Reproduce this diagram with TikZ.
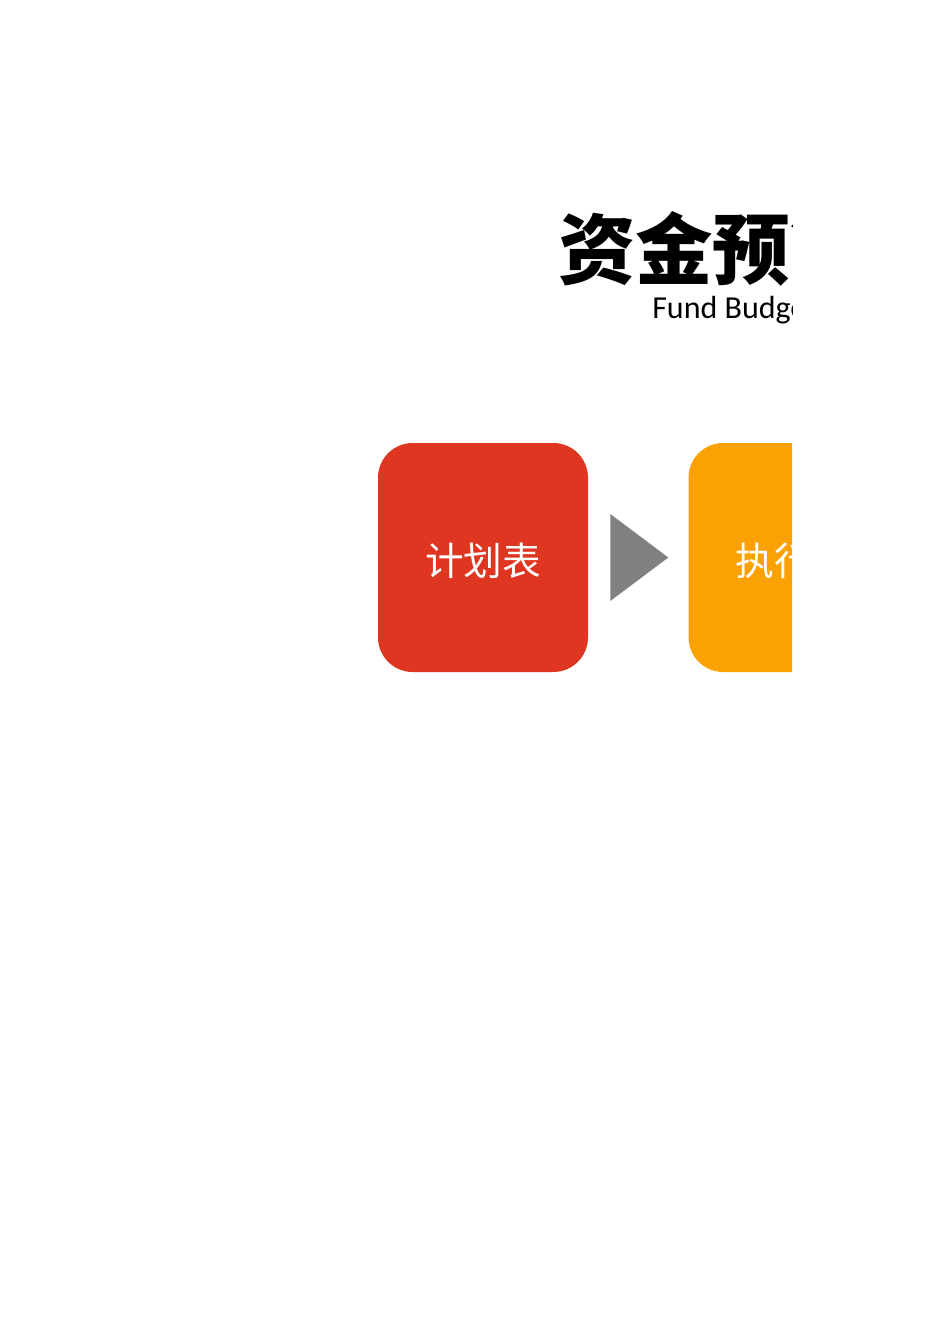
\documentclass[tikz,border=0pt]{standalone}
\usepackage{fontspec}
\newfontfamily\cjk{Noto Sans CJK SC}
\newfontfamily\calib{Carlito}
\usetikzlibrary{positioning,calc}
\definecolor{planred}{RGB}{222,54,33}
\definecolor{execorange}{RGB}{252,161,3}
\begin{document}
\begin{tikzpicture}[x=0.75pt,y=-0.75pt]
	\tikzset{block/.style={rounded corners=26pt,minimum width=157.5pt,minimum height=171.75pt,inner sep=0pt,text height=28pt,text depth=1.5pt,text=white,font=\cjk\fontsize{29}{35}\selectfont}}
	\useasboundingbox (0,0) rectangle (950,1344);
	\clip (0,0) rectangle (792,1344);
	\node [anchor=base west,inner sep=0pt,font=\cjk\bfseries\fontsize{58}{70}\selectfont] (title) at (558,279) {资金预算};
	\node [anchor=base west,inner sep=0pt,font=\calib\fontsize{24}{29}\selectfont] (subtitle) at (652,318) {Fund Budget};
	\node [block, fill=planred] (plan) at (483,557.5) {计划表};
	\node [block, fill=execorange, right =75pt of plan] (exec) {执行表};
	\fill[gray] ($(plan.east)+(22,-43.5)$) -- ($(plan.east)+(80,0)$) -- ($(plan.east)+(22,43.5)$) -- cycle;
\end{tikzpicture}
\end{document}
